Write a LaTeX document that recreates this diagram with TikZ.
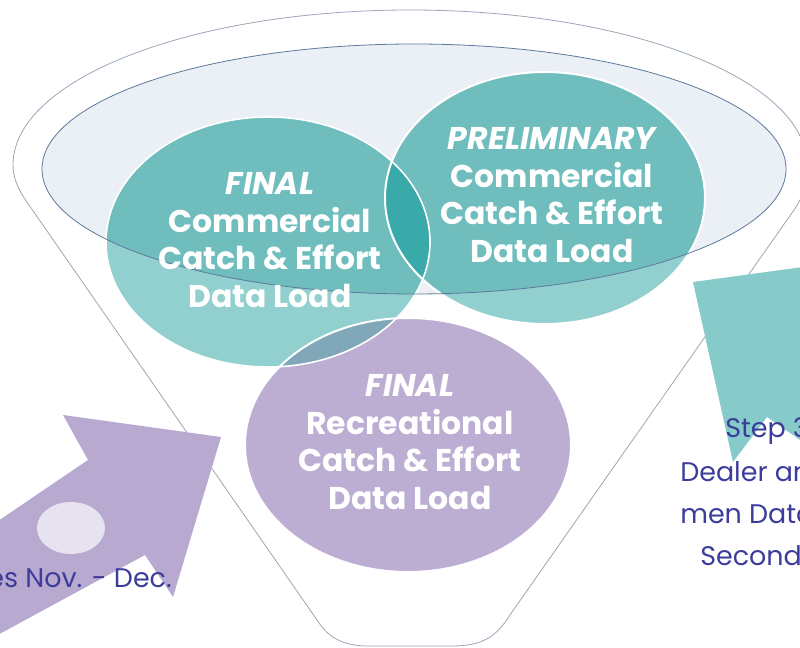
\documentclass[tikz,border=0pt]{standalone}
\usepackage{fontspec}
\newfontfamily\gothic{Poppins}
\definecolor{tealpale}{HTML}{92D0CF}
\definecolor{tealmid}{HTML}{70BDBD}
\definecolor{tealdeep}{HTML}{3AA9AA}
\definecolor{tealsoft}{HTML}{74C2C2}
\definecolor{lilac}{HTML}{BCAED3}
\definecolor{lilacteal}{HTML}{80A8B8}
\definecolor{lilacarrow}{HTML}{B8A9D0}
\definecolor{lilacdot}{HTML}{E7E2F0}
\definecolor{tealarrow}{HTML}{86CBC9}
\definecolor{bowlfill}{HTML}{EBEFF6}
\definecolor{bowlline}{HTML}{5D7A9C}
\definecolor{funnelline}{HTML}{9AA7B8}
\definecolor{stepblue}{HTML}{3C3C9C}

\begin{document}
\begin{tikzpicture}[x=0.75pt,y=0.75pt,yscale=-1,xscale=1,
	loadtext/.style={text=white,font=\gothic\bfseries\fontsize{23.6}{28.1}\selectfont,align=center,inner sep=0.75pt},
	steptext/.style={text=stepblue,font=\gothic\fontsize{20.2}{24}\selectfont,inner sep=0pt}]
		\useasboundingbox (0,0) rectangle (800,648);
		\clip (0,0) rectangle (800,648);
		
		%Shape: Funnel
		\draw[funnelline,fill=white,line width=0.6] (13,165) arc[start angle=180,end angle=360,x radius=397,y radius=155] .. controls (807,185) and (803,197) .. (794,210) -- (512,612) .. controls (497,636) and (485,645) .. (455,646) -- (365,646) .. controls (338,645) and (326,634) .. (317,620) -- (29,205) .. controls (18,190) and (13,178) .. (13,165) -- cycle ;
		%Shape: Ellipse (bowl)
		\fill[bowlfill] (414,169) ellipse [x radius=372,y radius=125] ;
		
		%Shape: Circles
		\fill[tealpale] (268,242) ellipse [x radius=162,y radius=125] ;
		\fill[tealpale] (545,198) ellipse [x radius=160,y radius=126] ;
		\begin{scope}
			\clip (268,242) ellipse [x radius=162,y radius=125] ;
			\fill[tealsoft] (545,198) ellipse [x radius=160,y radius=126] ;
		\end{scope}
		\begin{scope}
			\clip (414,169) ellipse [x radius=372,y radius=125] ;
			\fill[tealmid] (268,242) ellipse [x radius=162,y radius=125] ;
			\fill[tealmid] (545,198) ellipse [x radius=160,y radius=126] ;
			\clip (268,242) ellipse [x radius=162,y radius=125] ;
			\fill[tealdeep] (545,198) ellipse [x radius=160,y radius=126] ;
		\end{scope}
		\fill[lilac] (408,445) ellipse [x radius=163,y radius=127] ;
		\begin{scope}
			\clip (268,242) ellipse [x radius=162,y radius=125] ;
			\fill[lilacteal] (408,445) ellipse [x radius=163,y radius=127] ;
		\end{scope}
		\draw[white,line width=1.2] (268,242) ellipse [x radius=162,y radius=125] ;
		\draw[white,line width=1.5] (545,198) ellipse [x radius=160,y radius=126] ;
		\draw[white,line width=1.5] (408,445) ellipse [x radius=163,y radius=127] ;
		%Shape: Ellipse rim
		\draw[bowlline,line width=0.6] (414,169) ellipse [x radius=372,y radius=125] ;
		
		%Shape: Block arrows
		\fill[lilacarrow] (-30,540) -- (88,460) -- (63,415) -- (221,437) -- (173,597) -- (145,555) -- (-30,650) -- cycle ;
		\fill[lilacdot] (71,528) ellipse [x radius=34,y radius=26] ;
		\fill[tealarrow] (693,282) -- (876,257) -- (845,304) -- (927,361) -- (849,474) -- (767,417) -- (733,462) -- cycle ;
		
		% Text Node
		\node[loadtext] (finalcom) at (270,240) {{\itshape FINAL}\\Commercial\\Catch \& Effort\\Data Load};
		% Text Node
		\node[loadtext] (prelimcom) at (552,195) {{\itshape PRELIMINARY}\\Commercial\\Catch \& Effort\\Data Load};
		% Text Node
		\node[loadtext] (finalrec) at (410,442) {{\itshape FINAL}\\Recreational\\Catch \& Effort\\Data Load};
		% Text Node
		\node[steptext,anchor=base east] (novdec) at (172,587) {es Nov. - Dec.};
		% Text Node
		\node[steptext,anchor=base west] (step) at (725,438) {Step 3};
		% Text Node
		\node[steptext,anchor=base west] (dealer) at (680,482) {Dealer an};
		% Text Node
		\node[steptext,anchor=base west] (fishermen) at (680,523) {men Data};
		% Text Node
		\node[steptext,anchor=base west] (second) at (700,565) {Second};
		
\end{tikzpicture}
\end{document}
